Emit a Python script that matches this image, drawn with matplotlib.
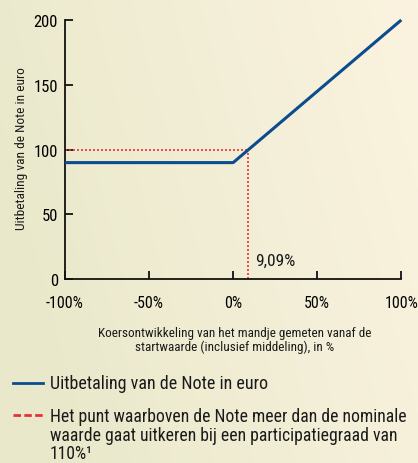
import numpy as np
import matplotlib.pyplot as plt
from matplotlib.colors import LinearSegmentedColormap

# lettertype: smal schreefloos, met terugval
plt.rcParams['font.family'] = ['Roboto Condensed', 'Liberation Sans Narrow', 'Roboto', 'DejaVu Sans']

# gegevens
koers = [-100, 0, 100]          # koersontwikkeling in %
uitbetaling = [90, 90, 200]     # uitbetaling in euro
drempel_x = 9.09                # punt waarboven meer dan nominaal
drempel_y = 100
x_ticks = [-100, -50, 0, 50, 100]
x_ticklabels = ['-100%', '-50%', '0%', '50%', '100%']
y_ticks = [0, 50, 100, 150, 200]

blauw = '#0b4c8e'
rood = '#e8303a'

W, H = 418, 464
fig = plt.figure(figsize=(W / 100, H / 100), dpi=100)

# achtergrond met verloop
bg = fig.add_axes([0, 0, 1, 1], zorder=-10)
gx, gy = np.meshgrid(np.linspace(0, 1, 200), np.linspace(0, 1, 200))
grad = np.clip(0.85 * gx + 0.25 * (1 - gy) - 0.1, 0, 1)
cmap = LinearSegmentedColormap.from_list('bg', ['#e9e8ca', '#f2eed6', '#fbf3df'])
bg.imshow(grad, cmap=cmap, aspect='auto', extent=[0, 1, 0, 1], origin='upper')
bg.axis('off')

ax = fig.add_axes([65 / W, 1 - 280.3 / H, (401.3 - 65) / W, (280.3 - 21) / H])
ax.patch.set_alpha(0)

ax.plot(koers, uitbetaling, color=blauw, linewidth=2.2, solid_capstyle='butt', clip_on=False, zorder=3)
ax.plot([-100, drempel_x], [drempel_y, drempel_y], color=rood, linewidth=1.2,
        linestyle=(0, (1.2, 1.2)), zorder=2)
ax.plot([drempel_x, drempel_x], [0, drempel_y], color=rood, linewidth=1.2,
        linestyle=(0, (1.2, 1.2)), zorder=2)
ax.text(13, 9, '9,09%', fontsize=12.5, color='#1a1a1a', ha='left', va='bottom')

ax.set_xlim(-100, 100)
ax.set_ylim(0, 200)
for s in ['top', 'right']:
    ax.spines[s].set_visible(False)
for s in ['left', 'bottom']:
    ax.spines[s].set_linewidth(1.3)
    ax.spines[s].set_color('#111111')

ax.set_xticks(x_ticks)
ax.set_xticklabels(x_ticklabels)
ax.set_yticks(y_ticks)
ax.tick_params(axis='both', direction='in', length=5.5, width=1.3, color='#111111')
ax.tick_params(axis='x', pad=11, labelsize=11.5)
ax.tick_params(axis='y', pad=5, labelsize=12)

fig.text(22 / W, 1 - 149 / H, 'Uitbetaling van de Note in euro', rotation=90,
         ha='center', va='center', fontsize=9.6, color='#1a1a1a')

fig.text(234.5 / W, 1 - 340.5 / H,
         'Koersontwikkeling van het mandje gemeten vanaf de\nstartwaarde (inclusief middeling), in %',
         ha='center', va='center', fontsize=9.5, color='#1a1a1a', linespacing=1.15)

# legenda
fig.add_artist(plt.Line2D([13 / W, 43 / W], [1 - 384 / H, 1 - 384 / H], color=blauw, linewidth=2))
fig.text(50 / W, 1 - 384 / H, 'Uitbetaling van de Note in euro', ha='left', va='center',
         fontsize=13, color='#1a1a1a')
fig.add_artist(plt.Line2D([13 / W, 43 / W], [1 - 416 / H, 1 - 416 / H], color=rood, linewidth=2,
                          linestyle=(0, (2.7, 1.2))))
fig.text(50 / W, 1 - 408 / H,
         'Het punt waarboven de Note meer dan de nominale\nwaarde gaat uitkeren bij een participatiegraad van\n110%\u00b9',
         ha='left', va='top', fontsize=12.7, color='#1a1a1a', linespacing=1.04)

fig.savefig('out.png', dpi=100)
